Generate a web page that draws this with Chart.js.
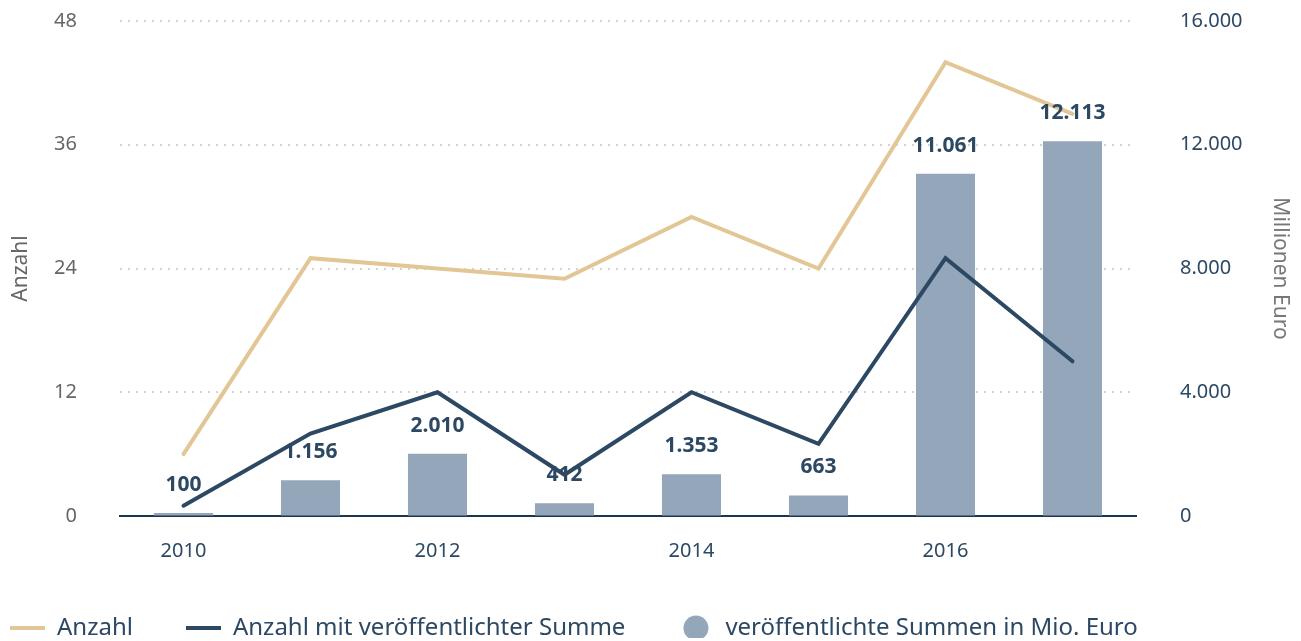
<!DOCTYPE html>
<html><head><meta charset="utf-8">
<script src="https://cdn.jsdelivr.net/npm/chart.js@4"></script>
<style>html,body{margin:0;padding:0;background:#fff}#wrap{width:1301px;height:641px}</style>
</head><body><div id="wrap"><canvas id="c" width="1301" height="641"></canvas></div>
<script>
const categories = ["2010","2011","2012","2013","2014","2015","2016","2017"];
const anzahl = [6, 25, 24, 23, 29, 24, 44, 39];
const anzahlMitSumme = [1, 8, 12, 4, 12, 7, 25, 15];
const summen = [100, 1156, 2010, 412, 1353, 663, 11061, 12113];
const leftTicks = [0, 12, 24, 36, 48];
const rightTicks = [0, 4000, 8000, 12000, 16000];

const FONT = "'Noto Sans', 'Open Sans', sans-serif";
const DARK = "#2c4863";
const BEIGE = "#e2c695";
const BAR = "#94a7ba";
const LEG_PAD = 53;

function fmt(v){ return String(Math.round(v)).replace(/\B(?=(\d{3})+(?!\d))/g, "."); }

function lineIcon(color){
  const c = document.createElement('canvas'); c.width = 35; c.height = 6;
  const x = c.getContext('2d'); x.fillStyle = color; x.fillRect(0, 1, 35, 4); return c;
}
function circleIcon(color){
  const c = document.createElement('canvas'); c.width = 26; c.height = 26;
  const x = c.getContext('2d'); x.fillStyle = color; x.beginPath(); x.arc(13, 13, 12.5, 0, Math.PI*2); x.fill(); return c;
}
const icons = [lineIcon(BEIGE), lineIcon(DARK), circleIcon(BAR)];

const labelPlugin = {
  id: 'barLabels',
  afterLayout(chart){
    if (chart.legend) {
      chart.legend.left = 10 - LEG_PAD;
      chart.legend.top = 564 - LEG_PAD + 53 - 1;
    }
  },
  afterDatasetsDraw(chart){
    const ctx = chart.ctx;
    const meta = chart.getDatasetMeta(2);
    ctx.save();
    ctx.font = "bold 21px " + FONT;
    ctx.fillStyle = DARK;
    ctx.textAlign = "center";
    ctx.textBaseline = "middle";
    meta.data.forEach((el, i) => {
      ctx.fillText(fmt(summen[i]), el.x, el.y - 28);
    });
    ctx.restore();
  }
};

new Chart(document.getElementById('c'), {
  type: 'bar',
  data: {
    labels: categories,
    datasets: [
      { type: 'line', label: 'Anzahl', data: anzahl, yAxisID: 'y', borderColor: BEIGE, backgroundColor: BEIGE,
        borderWidth: 4, pointRadius: 0, tension: 0, borderCapStyle: 'round', order: 1 },
      { type: 'line', label: 'Anzahl mit veröffentlichter Summe', data: anzahlMitSumme, yAxisID: 'y', borderColor: DARK, backgroundColor: DARK,
        borderWidth: 4, pointRadius: 0, tension: 0, borderCapStyle: 'round', order: 2 },
      { type: 'bar', label: 'veröffentlichte Summen in Mio. Euro', data: summen, yAxisID: 'y1', backgroundColor: BAR,
        categoryPercentage: 1, barPercentage: 0.465, order: 3 }
    ]
  },
  options: {
    responsive: false,
    animation: false,
    layout: { padding: { top: 21, left: 0, right: 0, bottom: 3 } },
    plugins: {
      tooltip: { enabled: false },
      legend: {
        position: 'bottom',
        align: 'start',
        maxHeight: 52,
        labels: {
          usePointStyle: true,
          pointStyleWidth: 35,
          font: { family: FONT, size: 24 },
          color: DARK,
          padding: LEG_PAD,
          boxHeight: 24,
          generateLabels(chart){
            return chart.data.datasets.map((d, i) => ({
              text: d.label,
              fillStyle: i === 2 ? BAR : (i === 0 ? BEIGE : DARK),
              strokeStyle: i === 2 ? BAR : (i === 0 ? BEIGE : DARK),
              lineWidth: 0,
              pointStyle: icons[i],
              fontColor: DARK,
              datasetIndex: i
            }));
          }
        }
      }
    },
    scales: {
      x: {
        grid: { display: false, drawTicks: false },
        border: { display: true, color: '#1e3550', width: 2 },
        ticks: {
          autoSkip: false, maxRotation: 0, padding: 23,
          color: DARK, font: { family: FONT, size: 20 },
          callback(v, i){ return i % 2 === 0 ? categories[i] : ''; }
        }
      },
      y: {
        position: 'left', min: 0, max: 48,
        afterBuildTicks(axis){ axis.ticks = leftTicks.map(v => ({ value: v })); },
        afterFit(axis){ axis.width = 120; },
        grid: { color: '#d4d4d4', lineWidth: 2, drawTicks: true, tickLength: 43, tickColor: 'rgba(0,0,0,0)' },
        border: { display: false, dash: [2, 6] },
        ticks: { color: '#666', font: { family: FONT, size: 20 }, padding: 0 },
        title: { display: true, text: 'Anzahl', color: '#666', font: { family: FONT, size: 21 }, padding: { top: 8, bottom: 0 } }
      },
      y1: {
        position: 'right', min: 0, max: 16000,
        afterBuildTicks(axis){ axis.ticks = rightTicks.map(v => ({ value: v })); },
        afterFit(axis){ axis.width = 165; },
        grid: { display: true, drawOnChartArea: false, drawTicks: true, tickLength: 44, tickColor: 'rgba(0,0,0,0)' },
        border: { display: false },
        ticks: { color: DARK, font: { family: FONT, size: 20 }, padding: 0, callback(v){ return fmt(v); } },
        title: { display: true, text: 'Millionen Euro', color: '#777', font: { family: FONT, size: 21 }, padding: { top: 8, bottom: 0 } }
      }
    }
  },
  plugins: [labelPlugin]
});
</script>
</body></html>
